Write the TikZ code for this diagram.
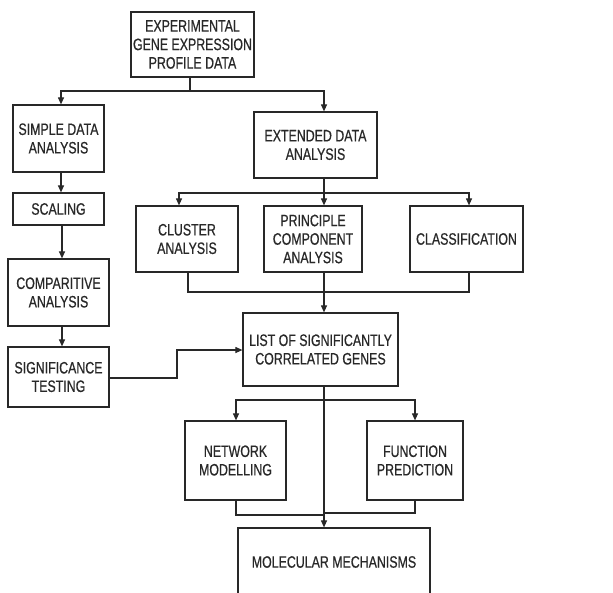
\documentclass[tikz,border=0pt]{standalone}
\usepackage{fontspec}
\setmainfont[FakeStretch=0.75,FakeBold=0.6]{Liberation Sans}
\usetikzlibrary{arrows.meta,calc}
\definecolor{ink}{RGB}{40,40,40}
\begin{document}
\begin{tikzpicture}[x=1pt,y=-1pt,
 box/.style={draw=ink,line width=1.2pt,align=center,inner sep=0pt,font=\fontsize{16.5}{18.5}\selectfont,text=ink},
 arr/.style={draw=ink,line width=1.1pt,-{Triangle[length=7pt,width=6pt]}},
 ln/.style={draw=ink,line width=1.1pt}]
\useasboundingbox (0,0) rectangle (613,592);
\node[box,minimum width=123,minimum height=65] (top) at (192.5,44.5) {EXPERIMENTAL\\GENE EXPRESSION\\PROFILE DATA};
\node[box,minimum width=91,minimum height=67] (simple) at (58.5,138.5) {SIMPLE DATA\\ANALYSIS};
\node[box,minimum width=123,minimum height=66] (ext) at (315.5,145) {EXTENDED DATA\\ANALYSIS};
\node[box,minimum width=91,minimum height=32] (scal) at (58.5,209) {SCALING};
\node[box,minimum width=102,minimum height=66] (clu) at (187,239) {CLUSTER\\ANALYSIS};
\node[box,minimum width=98,minimum height=66] (pca) at (313,239) {PRINCIPLE\\COMPONENT\\ANALYSIS};
\node[box,minimum width=113,minimum height=66] (cls) at (466.5,239) {CLASSIFICATION};
\node[box,minimum width=101,minimum height=67] (comp) at (58.5,292.5) {COMPARITIVE\\ANALYSIS};
\node[box,minimum width=101,minimum height=60] (sig) at (58.5,377) {SIGNIFICANCE\\TESTING};
\node[box,minimum width=155,minimum height=73] (list) at (320.5,349.5) {LIST OF SIGNIFICANTLY\\CORRELATED GENES};
\node[box,minimum width=101,minimum height=79] (net) at (235.5,460.5) {NETWORK\\MODELLING};
\node[box,minimum width=96,minimum height=79] (fun) at (415,460.5) {FUNCTION\\PREDICTION};
\node[box,minimum width=192,minimum height=68] (mol) at (334,562) {MOLECULAR MECHANISMS};
% top split
\coordinate (j1) at (190,91);
\draw[ln] ([xshift=-2.5pt]top.south) -- (j1);
\draw[arr] (j1) -| ([xshift=2.5pt]simple.north);
\draw[arr] (j1) -| ([xshift=8.5pt]ext.north);
% left chain
\draw[arr] ([xshift=2.5pt]simple.south) -- ([xshift=2.5pt]scal.north);
\draw[arr] ([xshift=3.5pt]scal.south) -- ([xshift=3.5pt]comp.north);
\draw[arr] ([xshift=3.5pt]comp.south) -- ([xshift=3.5pt]sig.north);
% extended split
\coordinate (j2) at (324,193);
\draw[ln] ([xshift=8.5pt]ext.south) -- (j2);
\draw[arr] (j2) -| ([xshift=-8pt]clu.north);
\draw[arr] (j2) -- ([xshift=11pt]pca.north);
\draw[arr] (j2) -| ([xshift=2.5pt]cls.north);
% merge into list
\coordinate (j3) at (324,292);
\draw[ln] ([xshift=1pt]clu.south) |- (j3);
\draw[ln] ([xshift=2.5pt]cls.south) |- (j3);
\draw[arr] ([xshift=11pt]pca.south) -- ([xshift=3.5pt]list.north);
% significance to list
\coordinate (bend) at (177,350);
\draw[arr] ([yshift=-1pt]sig.east) -| (bend) -- (bend -| list.west);
% list split
\coordinate (j4) at (324,400);
\draw[ln] ([xshift=3.5pt]list.south) -- (j4);
\draw[arr] (j4) -| ([xshift=0.5pt]net.north);
\draw[arr] (j4) -| (fun.north);
\draw[arr] (j4) -- ([xshift=-10pt]mol.north);
% merge into molecular
\coordinate (j5) at (324,515);
\coordinate (j6) at (324,513);
\draw[ln] ([xshift=0.5pt]net.south) |- (j5);
\draw[ln] (fun.south) |- (j6);
\end{tikzpicture}
\end{document}
